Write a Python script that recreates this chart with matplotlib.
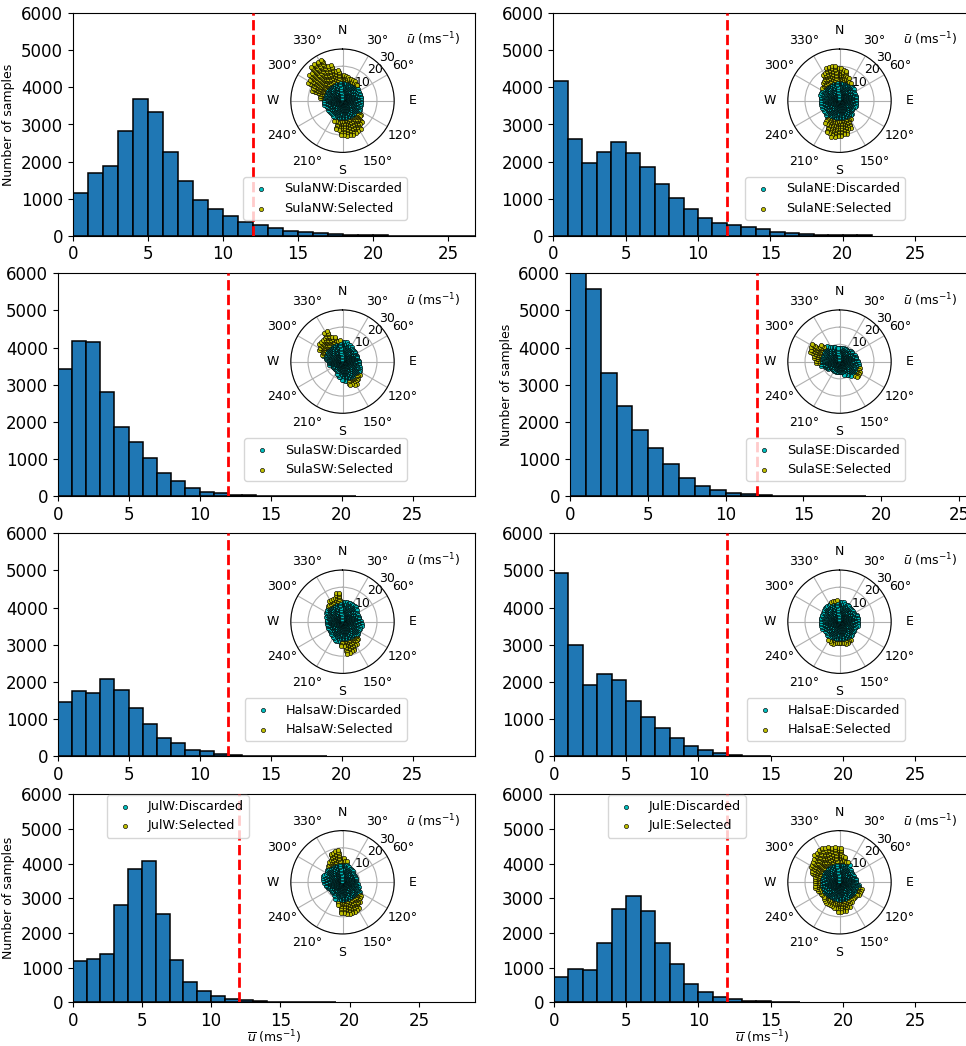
import numpy as np
import matplotlib
matplotlib.use("Agg")
import matplotlib.pyplot as plt

# ---------------- data ----------------
threshold = 12.0
stations = ["SulaNW", "SulaNE", "SulaSW", "SulaSE", "HalsaW", "HalsaE", "JulW", "JulE"]

# histogram counts, bins of 1 m/s starting at 0
sula_nw_counts = [1140, 1700, 1890, 2820, 3700, 3340, 2250, 1480, 960, 710, 540, 380, 280, 210,
                  140, 90, 60, 35, 20, 12, 8, 5, 4, 3, 2, 2, 1]
sula_ne_counts = [4180, 2620, 1970, 2250, 2540, 2240, 1860, 1400, 1010, 728, 490, 350, 279, 225,
                  171, 100, 70, 50, 30, 15, 10, 8]
sula_sw_counts = [3430, 4170, 4150, 2810, 1860, 1470, 1040, 640, 410, 230, 120, 80, 45, 30,
                  15, 10, 8, 6, 5, 4, 3]
sula_se_counts = [6400, 5570, 3310, 2440, 1790, 1300, 880, 490, 290, 160, 90, 55, 30, 15,
                  10, 8, 6, 5, 4]
halsa_w_counts = [1460, 1770, 1710, 2070, 1780, 1290, 880, 500, 350, 180, 130, 54, 36, 20,
                  15, 10, 8, 6, 4]
halsa_e_counts = [4930, 3000, 1910, 2210, 2060, 1490, 1070, 770, 490, 290, 180, 81, 45, 15, 8]
jul_w_counts = [1200, 1260, 1380, 2810, 3850, 4090, 2560, 1210, 590, 330, 170, 100, 70, 30,
                20, 15, 10, 8, 8]
jul_e_counts = [730, 970, 940, 1720, 2700, 3080, 2630, 1700, 1100, 530, 290, 165, 85, 50,
                25, 15, 8]

# wind-rose envelope: maximum mean speed per 10-degree direction sector
directions = list(range(0, 360, 10))
sula_nw_umax = [16, 15, 14, 14, 13, 12, 11, 11, 11, 11, 11, 11, 12, 14, 17, 20, 21, 21,
                20, 17, 13, 11, 10, 10, 10, 10, 11, 11, 14, 19, 23, 25, 27, 27, 22, 18]
sula_ne_umax = [19, 18, 15, 13, 11, 11, 10, 10, 10, 10, 10, 10, 9, 9, 11, 13, 17, 20,
                21, 22, 20, 16, 12, 11, 11, 11, 11, 11, 11, 12, 12, 13, 15, 18, 21, 21]
sula_sw_umax = [12, 12, 11, 10, 9, 9, 9, 9, 9, 10, 10, 11, 12, 13, 14, 16, 15, 12,
                11, 9, 8, 7, 7, 7, 7, 7, 8, 8, 10, 13, 16, 17, 17, 20, 16, 13]
sula_se_umax = [8, 8, 8, 8, 8, 9, 9, 10, 10, 11, 12, 13, 14, 14, 11, 9, 8, 7,
                7, 7, 7, 7, 7, 7, 8, 9, 11, 14, 16, 18, 19, 15, 12, 10, 9, 8]
halsa_w_umax = [12, 12, 12, 12, 12, 11, 10, 10, 10, 11, 12, 11, 11, 12, 14, 16, 18, 19,
                15, 12, 12, 11, 10, 9, 9, 9, 9, 9, 9, 10, 11, 12, 13, 15, 15, 17]
halsa_e_umax = [12, 12, 11, 11, 10, 10, 10, 11, 11, 11, 11, 10, 10, 10, 11, 13, 14, 13,
                13, 13, 14, 13, 11, 10, 10, 11, 11, 11, 11, 11, 11, 12, 12, 12, 13, 13]
jul_w_umax = [15, 13, 10, 9, 9, 8, 8, 8, 8, 8, 9, 10, 12, 14, 16, 18, 19, 19,
              18, 14, 11, 9, 8, 8, 8, 9, 10, 11, 12, 12, 11, 12, 13, 15, 18, 19]
jul_e_umax = [20, 16, 13, 12, 10, 9, 9, 9, 10, 10, 12, 14, 14, 13, 13, 14, 16, 17,
              17, 16, 15, 15, 14, 13, 13, 14, 15, 15, 15, 17, 19, 20, 22, 23, 22, 21]

theta_labels = ["N", "30°", "60°", "E", "120°", "150°", "S", "210°", "240°", "W", "300°", "330°"]
xticks = [0, 5, 10, 15, 20, 25]
yticks = [0, 1000, 2000, 3000, 4000, 5000, 6000]

# ---------------- layout (pixels) ----------------
W, H = 966, 1046
fig = plt.figure(figsize=(W / 100, H / 100), dpi=100)


def px_axes(l, t, r, b, **kw):
    return fig.add_axes([l / W, 1 - b / H, (r - l) / W, (b - t) / H], **kw)


# hist box (l, t, r, b), xmax, polar centre, legend (loc, x, y), ylabel, xlabel
layout = [
    ((72.7, 13.3, 475, 235.7), 26.8, (342.5, 100.7), ("lower right", 407, 220), True, False),
    ((553.3, 13.3, 970, 235.7), 28.8, (839.5, 100.7), ("lower right", 905, 220), False, False),
    ((57.7, 273.3, 475, 496.3), 29.4, (342.5, 361.6), ("lower right", 407, 481), False, False),
    ((570, 273.3, 970, 496.3), 25.7, (839.5, 361.6), ("lower right", 905, 481), True, False),
    ((57.7, 533.3, 475, 756.3), 29.4, (342.5, 621.7), ("lower right", 407, 741), False, False),
    ((554, 533.3, 970, 756.3), 28.8, (839.5, 621.7), ("lower right", 905, 741), False, False),
    ((72.7, 794.3, 475, 1002.3), 29.05, (342.5, 882.3), ("upper left", 106.7, 795), True, True),
    ((554, 794.3, 970, 1002.3), 28.8, (839.5, 882.3), ("upper left", 607.7, 795), False, True),
]
all_counts = [sula_nw_counts, sula_ne_counts, sula_sw_counts, sula_se_counts,
              halsa_w_counts, halsa_e_counts, jul_w_counts, jul_e_counts]
all_umax = [sula_nw_umax, sula_ne_umax, sula_sw_umax, sula_se_umax,
            halsa_w_umax, halsa_e_umax, jul_w_umax, jul_e_umax]

R = 51.7  # polar radius in px

for name, counts, umax, (box, xmax, pc, leg, ylab, xlab) in zip(stations, all_counts, all_umax, layout):
    ax = px_axes(*box)
    left_edges = np.arange(len(counts))
    ax.bar(left_edges, counts, width=1.0, align="edge", color="#1f77b4",
           edgecolor="black", linewidth=1.1, zorder=2)
    ax.axvline(threshold, color="red", linestyle="--", linewidth=2, zorder=3)
    ax.set_xlim(0, xmax)
    ax.set_ylim(0, 6000)
    ax.set_xticks(xticks)
    ax.set_yticks(yticks)
    ax.tick_params(labelsize=12)
    if ylab:
        ax.set_ylabel("Number of samples", fontsize=9)
    if xlab:
        ax.set_xlabel(r"$\overline{u}$ (ms$^{-1}$)", fontsize=9, labelpad=-1)

    # polar inset
    cx, cy = pc
    pax = px_axes(cx - R, cy - R, cx + R, cy + R, projection="polar")
    pax.set_theta_zero_location("N")
    pax.set_theta_direction(-1)
    th_d, r_d, th_s, r_s = [], [], [], []
    for d, m in zip(directions, umax):
        for off in (-2.5, 2.5):
            ang = np.deg2rad(d + off)
            for s in np.arange(0.8, m + 0.01, 0.9):
                if s < threshold:
                    th_d.append(ang); r_d.append(s)
                else:
                    th_s.append(ang); r_s.append(s)
    sc1 = pax.scatter(th_d, r_d, s=9, c="c", edgecolors="black", linewidths=0.45, zorder=3)
    sc2 = pax.scatter(th_s, r_s, s=9, c="y", edgecolors="black", linewidths=0.45, zorder=3)
    pax.set_ylim(0, 30)
    pax.set_yticks([10, 20, 30])
    pax.set_yticklabels(["10", "20", "30"])
    pax.set_rlabel_position(45)
    pax.set_thetagrids(range(0, 360, 30), labels=theta_labels)
    pax.tick_params(labelsize=9)
    pax.tick_params(axis="x", pad=2.5)
    pax.grid(True, color="#b0b0b0", linewidth=0.8)
    pax.text(1.38, 1.09, r"$\bar{u}$ (ms$^{-1}$)", transform=pax.transAxes,
             ha="center", va="center", fontsize=9)

    loc, lx, ly = leg
    ax.legend([sc1, sc2], [name + ":Discarded", name + ":Selected"], loc=loc,
              bbox_to_anchor=(lx / W, 1 - ly / H), bbox_transform=fig.transFigure,
              borderaxespad=0, fontsize=9.2, scatterpoints=1)

fig.savefig("out.png", dpi=100)
